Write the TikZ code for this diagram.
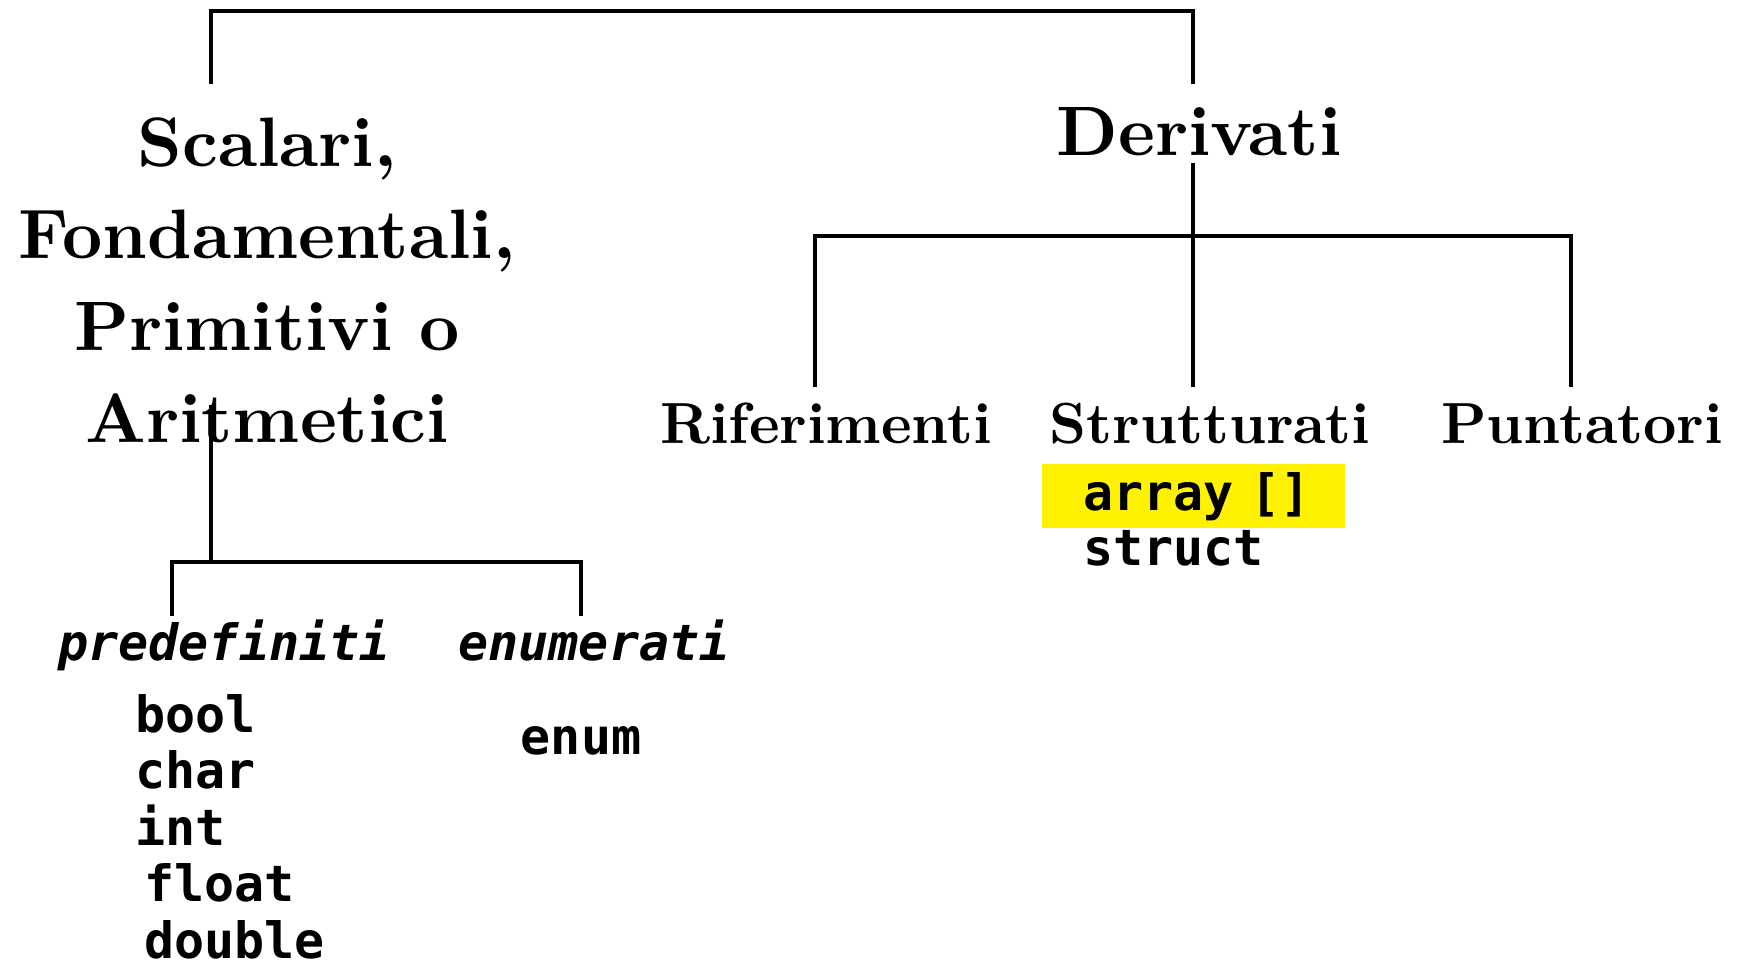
\documentclass[tikz,border=0pt]{standalone}
\usepackage{amsmath}
\usepackage{fontspec}
\newfontfamily\codefont{DejaVu Sans Mono}
\newfontfamily\headfont{lmroman10-bold}[Extension=.otf]
\usepackage{tikz}

\begin{document}
\begin{tikzpicture}[x=0.5pt, y=-0.5pt,
        big/.style={font=\fontsize{35}{46}\selectfont\headfont, inner sep=0pt},
        mid/.style={font=\fontsize{29}{36}\selectfont\headfont, inner sep=0pt},
        code/.style={font=\fontsize{25}{28.2}\selectfont\codefont\bfseries, inner sep=0pt},
        branch/.style={line width=1.7pt}]
        \useasboundingbox (0,0) rectangle (1738,966);

        \node[big, align=center, anchor=north] (scalari) at (267,117) {Scalari,\\Fondamentali,\\Primitivi o\\Aritmetici};
        \node[big, anchor=base] (derivati) at (1199,155) {Derivati};

        \node[mid, anchor=base] (riferimenti) at (826,443) {Riferimenti};
        \node[mid, anchor=base] (strutturati) at (1210,443) {Strutturati};
        \node[mid, anchor=base] (puntatori) at (1582,443) {Puntatori};

        \node[code, anchor=base] (predefiniti) at (224,660) {\itshape predefiniti};
        \node[code, anchor=base] (enumerati) at (594,660) {\itshape enumerati};
        \node[code, align=left, anchor=north west] (tipi) at (135,694) {bool\\char\\int\\\hspace*{4.5pt}float\\\hspace*{4.5pt}double};
        \node[code, anchor=base] (enum) at (581,754) {enum};

        \node[code, fill=yellow, align=left, anchor=north west, minimum height=32pt, text width=151.5pt, inner xsep=0pt, inner ysep=0pt] (array) at (1042,464) {\hspace*{20.5pt}array []};
        \node[code, anchor=base west] (struct) at (1083,565) {struct};

        \coordinate (sctop) at (211,84);
        \coordinate (dvtop) at (1193,84);
        \coordinate (scbot) at (211,405);
        \coordinate (pretop) at (172,616);
        \coordinate (enutop) at (581,616);
        \coordinate (dvbot) at (1193,163);
        \coordinate (rftop) at (815,387);
        \coordinate (sttop) at (1193,387);
        \coordinate (putop) at (1571,387);

        \draw[branch] (sctop) -- ++(0,-73) -| (dvtop);
        \draw[branch] (scbot) -- ++(0,157);
        \draw[branch] (pretop) -- ++(0,-54) -| (enutop);
        \draw[branch] (dvbot) -- (sttop);
        \draw[branch] (rftop) -- ++(0,-151) -| (putop);
    \end{tikzpicture}
\end{document}
